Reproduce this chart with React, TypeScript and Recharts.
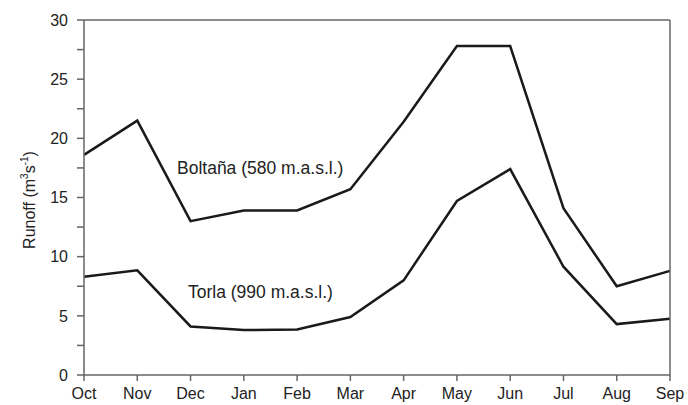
import React from 'react';
import { LineChart, Line, XAxis, YAxis, ReferenceLine } from 'recharts';

const months = ['Oct', 'Nov', 'Dec', 'Jan', 'Feb', 'Mar', 'Apr', 'May', 'Jun', 'Jul', 'Aug', 'Sep'];
const boltana = [18.6, 21.5, 13.0, 13.9, 13.9, 15.7, 21.4, 27.8, 27.8, 14.1, 7.5, 8.8];
const torla = [8.3, 8.85, 4.1, 3.8, 3.85, 4.9, 8.0, 14.7, 17.4, 9.15, 4.3, 4.75];
const yTicks = [0, 2.5, 5, 7.5, 10, 12.5, 15, 17.5, 20, 22.5, 25, 27.5, 30];

const data = months.map((m, i) => ({ month: m, boltana: boltana[i], torla: torla[i] }));

const font = '"Liberation Sans", Arial, sans-serif';
const axisColor = '#666';
const lineColor = '#1a1a1a';

const App: React.FC = () => {
  return (
    <div style={{ position: 'absolute', left: 0, top: 0, width: 688, height: 405, background: '#fff', fontFamily: font }}>
      <LineChart width={688} height={405} data={data} margin={{ top: 20, right: 0, bottom: 0, left: 0 }}>
        <XAxis
          dataKey="month"
          scale="point"
          height={30}
          interval={0}
          stroke={axisColor}
          strokeWidth={1.5}
          tickSize={6}
          tick={{ fontSize: 16, fill: '#222', fontFamily: font }}
          tickMargin={7}
        />
        <YAxis
          yAxisId="left"
          width={84}
          domain={[0, 30]}
          ticks={yTicks}
          interval={0}
          stroke={axisColor}
          strokeWidth={1.5}
          tickSize={7}
          tickMargin={9}
          tickFormatter={(v: number) => (v % 5 === 0 ? String(v) : '')}
          tick={{ fontSize: 16, fill: '#222', fontFamily: font }}
        />
        <YAxis
          yAxisId="right"
          orientation="right"
          width={18}
          domain={[0, 30]}
          ticks={yTicks}
          interval={0}
          stroke={axisColor}
          strokeWidth={1.5}
          tickSize={7}
          tickFormatter={() => ''}
        />
        <ReferenceLine yAxisId="left" y={30} stroke={axisColor} strokeWidth={1.5} />
        <Line
          yAxisId="left"
          type="linear"
          dataKey="boltana"
          stroke={lineColor}
          strokeWidth={2.5}
          dot={false}
          isAnimationActive={false}
        />
        <Line
          yAxisId="left"
          type="linear"
          dataKey="torla"
          stroke={lineColor}
          strokeWidth={2.5}
          dot={false}
          isAnimationActive={false}
        />
      </LineChart>
      <div style={{ position: 'absolute', left: 177, top: 158, fontSize: 17.5, color: '#222', whiteSpace: 'nowrap' }}>
        Boltaña (580 m.a.s.l.)
      </div>
      <div style={{ position: 'absolute', left: 188, top: 282, fontSize: 17.5, color: '#222', whiteSpace: 'nowrap' }}>
        Torla (990 m.a.s.l.)
      </div>
      <div
        style={{
          position: 'absolute',
          left: 29,
          top: 200,
          transform: 'translate(-50%, -50%) rotate(-90deg)',
          fontSize: 16,
          color: '#222',
          whiteSpace: 'nowrap',
        }}
      >
        Runoff (m<sup style={{ fontSize: 10 }}>3</sup>s<sup style={{ fontSize: 10 }}>-1</sup>)
      </div>
    </div>
  );
};

export default App;
